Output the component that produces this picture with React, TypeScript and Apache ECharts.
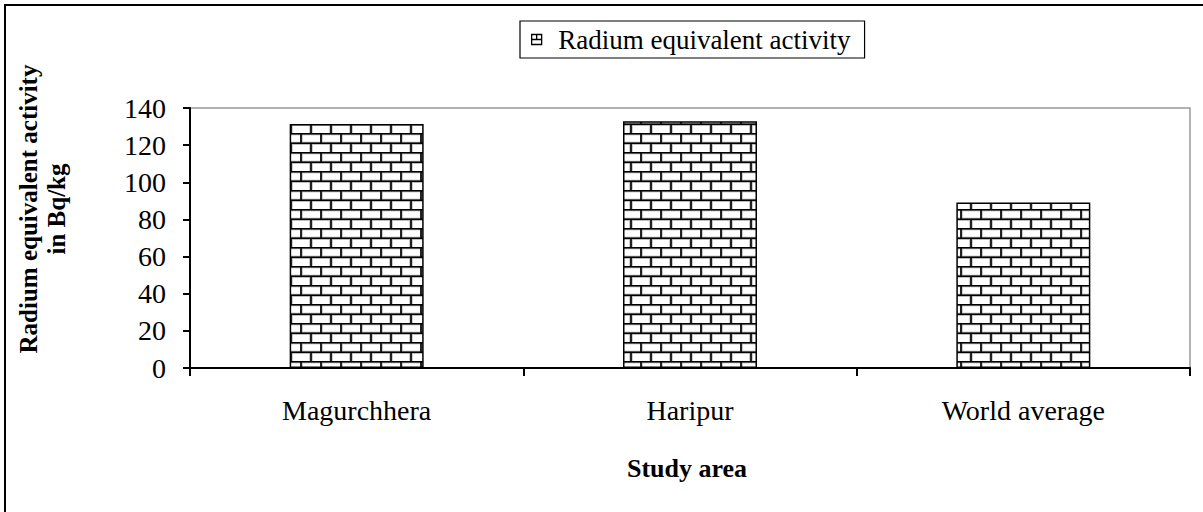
import React, { useEffect, useRef } from "react";
import * as echarts from "echarts";

const categories = ["Magurchhera", "Haripur", "World average"];
const raEqValues = [131.4, 132.8, 89.1];
const seriesName = "Radium equivalent activity";
const yAxisTitle = "Radium equivalent activity\nin Bq/kg";
const xAxisTitle = "Study area";
const yMin = 0;
const yMax = 140;
const yInterval = 20;

const FONT = '"Liberation Serif", "Times New Roman", serif';

const brickSvg =
  "<svg xmlns='http://www.w3.org/2000/svg' width='20' height='19'>" +
  "<rect width='20' height='19' fill='white'/>" +
  "<path d='M0 0.75H20M0 10.25H20M1 0V9.5M11 9.5V19' stroke='#aaa' stroke-width='3.2'/>" +
  "<path d='M0 0.75H20M0 10.25H20M1 0V9.5M11 9.5V19' stroke='black' stroke-width='1.6'/>" +
  "</svg>";
const brickUrl = "data:image/svg+xml;charset=utf-8," + encodeURIComponent(brickSvg);

export default function App() {
  const ref = useRef<HTMLDivElement>(null);
  useEffect(() => {
    if (!ref.current) return;
    const chart = echarts.init(ref.current, undefined, { renderer: "svg" });
    const pattern: any = { image: brickUrl, repeat: "repeat" };
    chart.setOption({
      animation: false,
      backgroundColor: "#fff",
      textStyle: { fontFamily: FONT, color: "#000" },
      grid: {
        left: 190,
        right: 13,
        top: 108,
        bottom: 144,
        show: true,
        borderColor: "#999",
        borderWidth: 1.5,
        backgroundColor: "transparent",
      },
      legend: {
        show: true,
        left: 520,
        top: 21,
        padding: [5, 14, 5, 11],
        borderColor: "#000",
        borderWidth: 1.2,
        itemWidth: 11,
        itemHeight: 10,
        textStyle: { fontFamily: FONT, fontSize: 27, color: "#000", padding: [0, 0, 0, 11] },
        data: [
          {
            name: seriesName,
            icon: "path://M0 0H10V10H0ZM0 5H10M5 0V5",
            itemStyle: { color: "#fff", borderColor: "#000", borderWidth: 1.3 },
          },
        ],
      },
      xAxis: {
        type: "category",
        data: categories,
        boundaryGap: true,
        axisLine: { lineStyle: { color: "#000", width: 2 } },
        axisTick: { show: true, alignWithLabel: false, length: 8, lineStyle: { color: "#000", width: 2 } },
        axisLabel: { fontFamily: FONT, fontSize: 28, color: "#000", margin: 28 },
        splitLine: { show: false },
      },
      yAxis: {
        type: "value",
        min: yMin,
        max: yMax,
        interval: yInterval,
        axisLine: { show: true, lineStyle: { color: "#000", width: 2 } },
        axisTick: { show: true, length: 7, lineStyle: { color: "#000", width: 2 } },
        axisLabel: { fontFamily: FONT, fontSize: 28, color: "#000", margin: 24 },
        splitLine: { show: false },
      },
      series: [
        {
          name: seriesName,
          type: "bar",
          data: raEqValues,
          barWidth: 134,
          itemStyle: { color: pattern, borderColor: "#000", borderWidth: 1.5 },
        },
      ],
      graphic: [
        {
          type: "rect",
          shape: { x: 5, y: 5, width: 1200, height: 510 },
          style: { fill: "none", stroke: "#000", lineWidth: 2 },
          silent: true,
          z: 100,
        },
        {
          type: "text",
          x: 42,
          y: 209,
          rotation: Math.PI / 2,
          style: {
            text: yAxisTitle,
            font: `bold 25px ${FONT}`,
            fill: "#000",
            align: "center",
            verticalAlign: "middle",
            lineHeight: 28,
          },
        },
        {
          type: "text",
          x: 687,
          y: 468,
          style: {
            text: xAxisTitle,
            font: `bold 26px ${FONT}`,
            fill: "#000",
            align: "center",
            verticalAlign: "middle",
          },
        },
      ],
    });
    return () => chart.dispose();
  }, []);
  return (
    <div
      ref={ref}
      style={{ position: "absolute", left: 0, top: 0, width: 1203, height: 512 }}
    />
  );
}
